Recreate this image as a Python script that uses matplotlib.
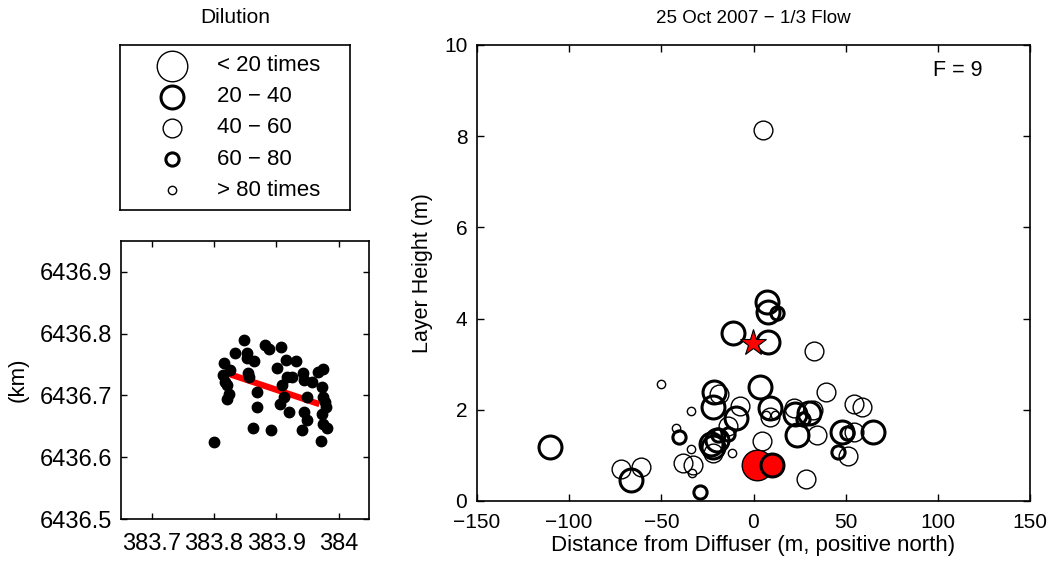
import matplotlib
matplotlib.use("Agg")
import matplotlib.pyplot as plt
import numpy as np

plt.rcParams['font.family'] = ['Liberation Sans', 'DejaVu Sans']

# ---- data ----
legend_labels = ['< 20 times', '20 \u2212 40', '40 \u2212 60', '60 \u2212 80', '> 80 times']

# Profile points: distance from diffuser (m), layer height (m), dilution class (0..4)
dist = [-110.3, -72.1, -61.0, -66.6, -50.2, -34.0, -42.0, -40.4, -33.9, -38.1,
        -32.7, -33.5, -29.0, -21.5, -18.5, -21.8, -7.2, -9.5, -13.7, -13.7,
        -20.0, -21.8, -21.8, -11.8, -11.0, 7.2, 8.0, 12.6, 8.0, 33.0,
        3.5, 39.3, 9.0, 9.0, 6.8, 11.7, 4.6, 22.0, 22.5, 30.0,
        32.4, 27.0, 23.4, 34.3, 54.5, 59.0, 48.0, 50.6, 54.5, 65.0,
        45.6, 51.3, 28.5, 5.3, -23.0, -19.0]
height = [1.19, 0.70, 0.74, 0.45, 2.57, 1.97, 1.61, 1.40, 1.13, 0.84,
          0.80, 0.61, 0.19, 2.38, 2.34, 2.06, 2.08, 1.83, 1.64, 1.48,
          1.34, 1.19, 1.05, 1.06, 3.68, 4.37, 4.15, 4.12, 3.49, 3.29,
          2.50, 2.40, 2.05, 1.85, 1.89, 1.89, 1.32, 2.03, 1.90, 1.92,
          2.00, 1.80, 1.45, 1.45, 2.13, 2.07, 1.52, 1.50, 1.52, 1.52,
          1.07, 0.98, 0.48, 8.13, 1.25, 1.45]
dil_class = [1, 2, 2, 1, 4, 4, 4, 3, 4, 2,
             2, 4, 3, 1, 2, 1, 2, 1, 2, 3,
             1, 1, 2, 4, 1, 1, 1, 3, 1, 2,
             1, 2, 1, 2, 4, 4, 2, 2, 1, 1,
             2, 3, 1, 2, 2, 2, 1, 3, 2, 1,
             3, 2, 2, 2, 1, 3]

# Highlighted (red) samples
red_dist = [2.1, 9.9]
red_height = [0.79, 0.79]
red_class = [0, 1]

# Diffuser location (star)
star_dist = [-0.4]
star_height = [3.46]

# Map of sample positions (km)
map_e = [383.8007, 383.8162, 383.8141, 383.8184, 383.8205, 383.8259, 383.8243, 383.8216,
         383.8339, 383.8484, 383.8527, 383.8537, 383.8644, 383.8553, 383.8569, 383.8687,
         383.8687, 383.8623, 383.8821, 383.8891, 383.8912, 383.9078, 383.9009, 383.9062,
         383.9089, 383.9126, 383.9169, 383.9158, 383.9212, 383.9319, 383.9426, 383.9448,
         383.9571, 383.9501, 383.9448, 383.9491, 383.9410, 383.9678, 383.9748, 383.9732,
         383.9758, 383.9785, 383.9801, 383.9732, 383.9748, 383.9812, 383.9716, 383.9250]
map_n = [6436.625, 6436.752, 6436.733, 6436.722, 6436.717, 6436.741, 6436.703, 6436.695,
         6436.768, 6436.789, 6436.769, 6436.760, 6436.755, 6436.736, 6436.730, 6436.706,
         6436.682, 6436.648, 6436.782, 6436.775, 6436.644, 6436.779, 6436.744, 6436.687,
         6436.717, 6436.698, 6436.730, 6436.758, 6436.674, 6436.756, 6436.736, 6436.725,
         6436.722, 6436.698, 6436.674, 6436.660, 6436.645, 6436.738, 6436.742, 6436.714,
         6436.698, 6436.690, 6436.682, 6436.670, 6436.654, 6436.647, 6436.627, 6436.730]
diffuser_e = [383.8232, 383.9694]
diffuser_n = [6436.735, 6436.686]

# ---- styles ----
class_ms = [22.0, 16.5, 13.5, 9.5, 6.0]
class_lw = [1.0, 2.2, 1.0, 2.2, 1.0]

fig = plt.figure(figsize=(10.51, 5.63), dpi=100)

# ---- main profile axes ----
ax = fig.add_axes([477/1051, 1-501/563, 553/1051, 456/563])
for x, y, c in zip(dist, height, dil_class):
    ax.plot([x], [y], 'o', ms=class_ms[c], mfc='none', mec='black', mew=class_lw[c])
for x, y, c in zip(red_dist, red_height, red_class):
    ax.plot([x], [y], 'o', ms=class_ms[c], mfc='red', mec='black', mew=class_lw[c])
ax.plot(star_dist, star_height, '*', ms=20, mfc='red', mec='black', mew=0.8)
ax.set_xlim(-150, 150)
ax.set_ylim(0, 10)
ax.set_xticks(np.arange(-150, 151, 50))
ax.set_yticks(np.arange(0, 11, 2))
ax.tick_params(direction='in', top=True, right=True, labelsize=15, length=5, width=1)
ax.tick_params(axis='x', pad=9)
ax.tick_params(axis='y', pad=7)
ax.set_xlabel('Distance from Diffuser (m, positive north)', fontsize=16, labelpad=2)
ax.set_ylabel('Layer Height (m)', fontsize=15.5, labelpad=8)
ax.set_title('25 Oct 2007 \u2212 1/3 Flow', fontsize=13.5, pad=16)
ax.text(111, 9.45, 'F = 9', fontsize=15.5, ha='center', va='center')
for s in ax.spines.values():
    s.set_linewidth(1.2)

# ---- map axes ----
mx = fig.add_axes([120.7/1051, 1-519.3/563, 248.3/1051, 278.6/563])
mx.plot(diffuser_e, diffuser_n, '-', color='red', lw=4.5, solid_capstyle='butt')
mx.plot(map_e, map_n, 'o', ms=7.5, color='black', mec='black')
mx.set_xlim(383.65, 384.049)
mx.set_ylim(6436.5, 6436.95)
mx.set_xticks([383.7, 383.8, 383.9, 384.0])
mx.set_xticklabels(['383.7', '383.8', '383.9', '384'])
mx.set_yticks([6436.5, 6436.6, 6436.7, 6436.8, 6436.9])
mx.set_yticklabels(['6436.5', '6436.6', '6436.7', '6436.8', '6436.9'])
mx.tick_params(direction='in', top=True, right=True, labelsize=17, length=4, width=1)
mx.tick_params(axis='x', pad=10)
mx.tick_params(axis='y', pad=6)
mx.set_ylabel('(km)', fontsize=16, labelpad=8)
for s in mx.spines.values():
    s.set_linewidth(1.2)

# ---- legend axes ----
lx = fig.add_axes([120/1051, 1-210/563, 230/1051, 165/563])
lx.set_xlim(0, 1)
lx.set_ylim(0, 1)
n = len(legend_labels)
ys = [0.873 - i * 0.188 for i in range(n)]
for i, (lab, yy) in enumerate(zip(legend_labels, ys)):
    lx.plot([0.225], [yy], 'o', ms=class_ms[i], mfc='none', mec='black', mew=class_lw[i])
    lx.text(0.42, yy, lab, fontsize=16, va='center', ha='left')
lx.set_xticks([])
lx.set_yticks([])
lx.set_title('Dilution', fontsize=15, pad=16)
for s in lx.spines.values():
    s.set_linewidth(1.2)

fig.savefig('out.png', dpi=100)
